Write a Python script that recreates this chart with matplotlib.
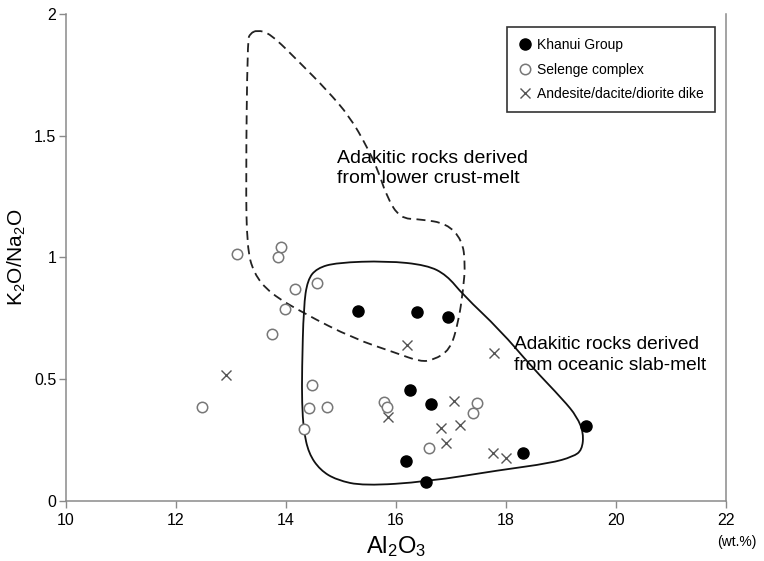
import numpy as np
import matplotlib
matplotlib.use('Agg')
from matplotlib import pyplot as plt
from matplotlib.path import Path
from matplotlib.patches import PathPatch

plt.rcParams['font.family'] = ['Liberation Sans', 'DejaVu Sans']
plt.rcParams['mathtext.fontset'] = 'custom'
plt.rcParams['mathtext.rm'] = 'Liberation Sans'
plt.rcParams['mathtext.it'] = 'Liberation Sans'

# Khanui Group (filled circles)
khanui_al = [15.30, 16.38, 16.95, 16.25, 16.63, 16.18, 16.55, 18.30, 19.45]
khanui_kn = [0.780, 0.777, 0.757, 0.456, 0.398, 0.164, 0.077, 0.196, 0.309]

# Selenge complex (open circles)
selenge_al = [13.10, 13.91, 13.86, 14.16, 14.56, 13.99, 13.74, 14.47, 14.42,
              14.74, 14.33, 15.78, 15.83, 17.47, 17.39, 16.59, 12.48]
selenge_kn = [1.014, 1.042, 1.001, 0.871, 0.894, 0.787, 0.685, 0.476, 0.381,
              0.385, 0.294, 0.405, 0.387, 0.404, 0.360, 0.216, 0.385]

# Andesite/dacite/diorite dike (crosses)
dike_al = [16.19, 17.78, 12.91, 15.85, 17.05, 16.81, 17.16, 16.91, 17.77, 17.99]
dike_kn = [0.641, 0.607, 0.517, 0.344, 0.412, 0.298, 0.312, 0.240, 0.198, 0.175]

# field outline: adakites from lower crust-melt (dashed)
crust_al = [13.47, 13.71, 14.26, 14.74, 15.16, 15.47, 15.67, 15.83, 16.07, 16.44,
            16.92, 17.20, 17.26, 17.22, 17.13, 16.98, 16.68, 16.44, 16.01, 15.22,
            14.32, 13.71, 13.41, 13.29, 13.27, 13.30, 13.35]
crust_kn = [1.934, 1.921, 1.798, 1.688, 1.578, 1.455, 1.360, 1.250, 1.161, 1.157,
            1.140, 1.072, 0.976, 0.867, 0.730, 0.620, 0.579, 0.572, 0.607, 0.668,
            0.771, 0.853, 0.935, 1.044, 1.318, 1.893, 1.920]

# field outline: adakites from oceanic slab-melt (solid)
slab_al = [14.29, 14.32, 14.39, 14.56, 14.92, 15.83, 16.56, 16.92, 17.22, 17.89,
           18.47, 19.04, 19.29, 19.41, 19.38, 19.22, 18.80, 17.89, 16.56, 15.41,
           14.92, 14.62, 14.41, 14.32, 14.29]
slab_kn = [0.538, 0.798, 0.908, 0.956, 0.979, 0.986, 0.969, 0.928, 0.846, 0.702,
           0.550, 0.415, 0.346, 0.278, 0.209, 0.182, 0.155, 0.127, 0.079, 0.062,
           0.086, 0.127, 0.196, 0.292, 0.401]

x_ticks = [10, 12, 14, 16, 18, 20, 22]
y_ticks = [0, 0.5, 1, 1.5, 2]
y_tick_labels = ['0', '0.5', '1', '1.5', '2']


def closed_curve(xs, ys):
    # quadratic bezier through the midpoints of the outline points
    pts = np.column_stack([xs, ys])
    mids = (pts + np.roll(pts, -1, axis=0)) / 2
    verts = [mids[-1]]
    codes = [Path.MOVETO]
    for i in range(len(pts)):
        verts += [pts[i], mids[i]]
        codes += [Path.CURVE3, Path.CURVE3]
    return Path(verts, codes)


fig = plt.figure(figsize=(7.64, 5.61), dpi=100)
ax = fig.add_axes([0.0864, 0.107, 0.864, 0.868])

grey = '#8a8a8a'

ax.add_patch(PathPatch(closed_curve(crust_al, crust_kn), fill=False,
                       edgecolor='#222222', linewidth=1.3, linestyle=(0, (5, 3))))
ax.add_patch(PathPatch(closed_curve(slab_al, slab_kn), fill=False,
                       edgecolor='#111111', linewidth=1.3))

ax.plot(khanui_al, khanui_kn, 'o', color='black', markersize=8,
        label='Khanui Group', zorder=3)
ax.plot(selenge_al, selenge_kn, 'o', markerfacecolor='white',
        markeredgecolor='#777777', markeredgewidth=1.1, markersize=7.5,
        label='Selenge complex', zorder=3)
ax.plot(dike_al, dike_kn, 'x', color='#555555', markersize=7,
        markeredgewidth=1.0, label='Andesite/dacite/diorite dike', zorder=3)

ax.text(14.93, 1.366, 'Adakitic rocks derived\nfrom lower crust-melt',
        fontsize=14, ha='left', va='center', linespacing=1.25)
ax.text(18.15, 0.600, 'Adakitic rocks derived\nfrom oceanic slab-melt',
        fontsize=13.8, ha='left', va='center', linespacing=1.25)

ax.set_xlim(10, 22)
ax.set_ylim(0, 2)
ax.set_xticks(x_ticks)
ax.set_yticks(y_ticks)
ax.set_yticklabels(y_tick_labels)
ax.tick_params(direction='out', length=5, width=1, color=grey,
               labelsize=11.5, pad=2)
ax.tick_params(axis='x', pad=4)

for side in ['left', 'bottom', 'right']:
    ax.spines[side].set_color(grey)
    ax.spines[side].set_linewidth(1.1)
ax.spines['top'].set_visible(False)

ax.set_xlabel('Al$_2$O$_3$', fontsize=17, labelpad=4)
ax.set_ylabel('K$_2$O/Na$_2$O', fontsize=15, labelpad=4)
ax.text(22.2, -0.168, '(wt.%)', fontsize=10, ha='center', va='center')

leg = ax.legend(loc='upper right', bbox_to_anchor=(0.983, 0.973), fontsize=10,
                frameon=True, fancybox=False, edgecolor='black',
                handletextpad=0.35, handlelength=1.0, borderpad=0.8,
                labelspacing=0.75, borderaxespad=0)
leg.get_frame().set_linewidth(1.2)

fig.savefig('out.png', dpi=100)
